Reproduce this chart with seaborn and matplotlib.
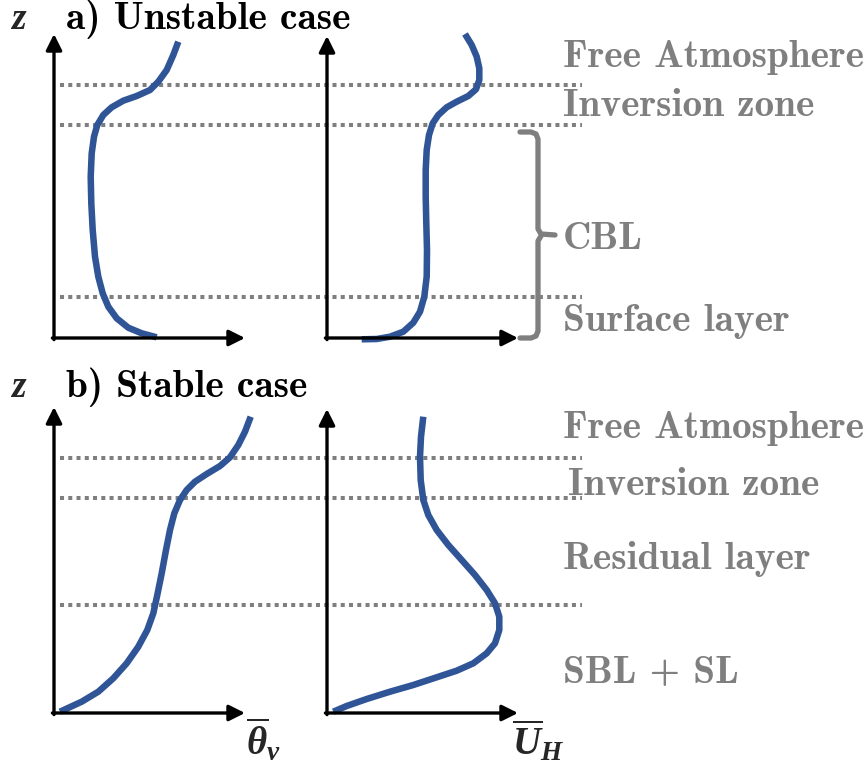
import numpy as np
import pandas as pd
import matplotlib
matplotlib.use("Agg")
import matplotlib.pyplot as plt
import seaborn as sns

sns.set_theme(style="white")
plt.rcParams["mathtext.fontset"] = "custom"
plt.rcParams["mathtext.it"] = "Liberation Serif:italic:bold"
plt.rcParams["mathtext.rm"] = "Liberation Serif:bold"
plt.rcParams["mathtext.bf"] = "Liberation Serif:italic:bold"

# ---------------- data (schematic profiles, image pixel coords) ----------------
theta_unstable_x = [178.3, 173.3, 166.7, 158.3, 150, 136.7, 123.3, 111.7, 103.3, 97.3, 94, 91.7,
                    90.7, 91.3, 92.7, 95, 98.3, 102.7, 108.3, 116.7, 128.3, 141.7, 156.7]
theta_unstable_z = [41.7, 55, 70, 81.7, 90, 96, 100.7, 107.3, 115, 125, 136.7, 153.3,
                    176.7, 203.3, 230, 256.7, 276.7, 293.3, 306.7, 318.3, 327.7, 333.3, 337.3]

u_unstable_x = [465, 471.7, 476.7, 479.3, 479.3, 476, 468.3, 456.7, 446.7, 438.3, 432.7, 429,
                426.7, 425.7, 425.7, 426.3, 427, 426.7, 424.3, 420, 413.3, 403.3, 390, 376.7, 361.7]
u_unstable_z = [34, 45, 56.7, 68.3, 80, 89.3, 96, 101.7, 107.3, 115, 123.3, 135,
                150, 170, 196.7, 223.3, 250, 276.7, 296.7, 311.7, 322.7, 331.7, 336.7, 339, 339.3]

theta_stable_x = [250.7, 245, 238.3, 230, 220, 206.7, 195, 186.7, 180, 174.3, 170, 166,
                  161.7, 157.3, 153.3, 147.3, 138.3, 126.7, 113.3, 98.3, 81.7, 60]
theta_stable_z = [416.7, 431.7, 445, 457.3, 466, 474, 481.7, 490, 500, 513.3, 530, 550,
                  573.3, 595, 613.3, 630, 646.7, 663.3, 678.3, 691.7, 701.7, 711.7]

u_stable_x = [423.3, 421, 420, 420.7, 423.3, 428.3, 436.7, 448.3, 461.7, 475, 486.7, 495,
              499.3, 499.3, 495, 486.7, 473.3, 456.7, 436.7, 413.3, 390, 366.7, 346.7, 333.3]
u_stable_z = [416.7, 436.7, 456.7, 480, 500, 515, 530, 545, 560, 575, 590, 603.3,
              616.7, 630, 643.3, 653.3, 663.3, 670.7, 677.3, 685, 691.7, 699, 706, 711.7]

# layer boundaries (dotted lines) per panel
boundaries_unstable = [85, 125, 297]
boundaries_stable = [458, 498, 605]

labels_unstable = ["Free Atmosphere", "Inversion zone", "CBL", "Surface layer"]
labels_unstable_z = [67, 116, 249, 331]
labels_unstable_x = [563, 563, 563, 563]
labels_stable = ["Free Atmosphere", "Inversion zone", "Residual layer", "SBL + SL"]
labels_stable_z = [438, 495, 569, 683]
labels_stable_x = [563, 568, 563, 563]

titles = ["a) Unstable case", "b) Stable case"]
titles_z = [29, 397]

# ---------------- build long table ----------------
frames = []
for name, xs, zs in [("tu", theta_unstable_x, theta_unstable_z),
                     ("uu", u_unstable_x, u_unstable_z),
                     ("ts", theta_stable_x, theta_stable_z),
                     ("us", u_stable_x, u_stable_z)]:
    frames.append(pd.DataFrame({"profile": name, "x": xs, "z": zs}))
df = pd.concat(frames, ignore_index=True)

W, H = 867, 767
fig = plt.figure(figsize=(W / 100, H / 100), dpi=100)
ax = fig.add_axes([0, 0, 1, 1])

GRAY = "#7f7f7f"
BLUE = "#2f5597"

# dotted boundaries
for zb in boundaries_unstable + boundaries_stable:
    ax.plot([60, 582], [zb, zb], color=GRAY, lw=2.9,
            linestyle=(0, (1.0, 1.05)), dash_capstyle="butt", zorder=1)

# profiles
n_before = len(ax.lines)
sns.lineplot(data=df, x="x", y="z", units="profile", estimator=None,
             sort=False, color=BLUE, lw=4.7, ax=ax, zorder=3, legend=False)
for l in ax.lines[n_before:]:
    l.set_solid_capstyle("butt")
    l.set_solid_joinstyle("round")

ax.set_xlim(0, W)
ax.set_ylim(H, 0)
ax.axis("off")

# coordinate axes with arrows
arrow_kw = dict(arrowstyle="-|>", lw=2.4, color="black", mutation_scale=24,
                shrinkA=0, shrinkB=0)
axes_defs = [((54, 338), (54, 34), (245, 338)),
             ((327, 338), (327, 36), (518, 338)),
             ((54, 713), (54, 407), (245, 713)),
             ((327, 713), (327, 409), (518, 713))]
for origin, top, right in axes_defs:
    ax.annotate("", xy=top, xytext=(origin[0], origin[1] + 1.6), arrowprops=arrow_kw)
    ax.annotate("", xy=right, xytext=(origin[0] - 1.6, origin[1]), arrowprops=arrow_kw)

# bracket for CBL
ax.plot([520, 531, 536, 538, 538, 541, 555], [132, 132, 134, 139, 229, 234, 235],
        color=GRAY, lw=3.8, solid_joinstyle="round", zorder=2)
ax.plot([541, 538, 538, 536, 531, 520], [236, 241, 331, 336, 338, 338],
        color=GRAY, lw=3.8, solid_joinstyle="round", zorder=2)

# layer labels
FS = 28.3
for txt, xx, zz in zip(labels_unstable, labels_unstable_x, labels_unstable_z):
    ax.text(xx, zz, txt, color=GRAY, fontsize=FS, family="cmb10",
            ha="left", va="baseline")
for txt, xx, zz in zip(labels_stable, labels_stable_x, labels_stable_z):
    ax.text(xx, zz, txt, color=GRAY, fontsize=FS, family="cmb10",
            ha="left", va="baseline")

# titles
for t, tz in zip(titles, titles_z):
    ax.text(66, tz, t, color="black", fontsize=FS, family="cmb10",
            ha="left", va="baseline")
    ax.text(10, tz, r"$z$", fontsize=27, ha="left", va="baseline")

# axis variable labels
ax.text(246, 755, r"$\overline{\theta}_{v}$", fontsize=28, ha="left", va="baseline")
ax.text(512, 755, r"$\overline{U}_{H}$", fontsize=28, ha="left", va="baseline")

fig.savefig("out.png", dpi=100)
